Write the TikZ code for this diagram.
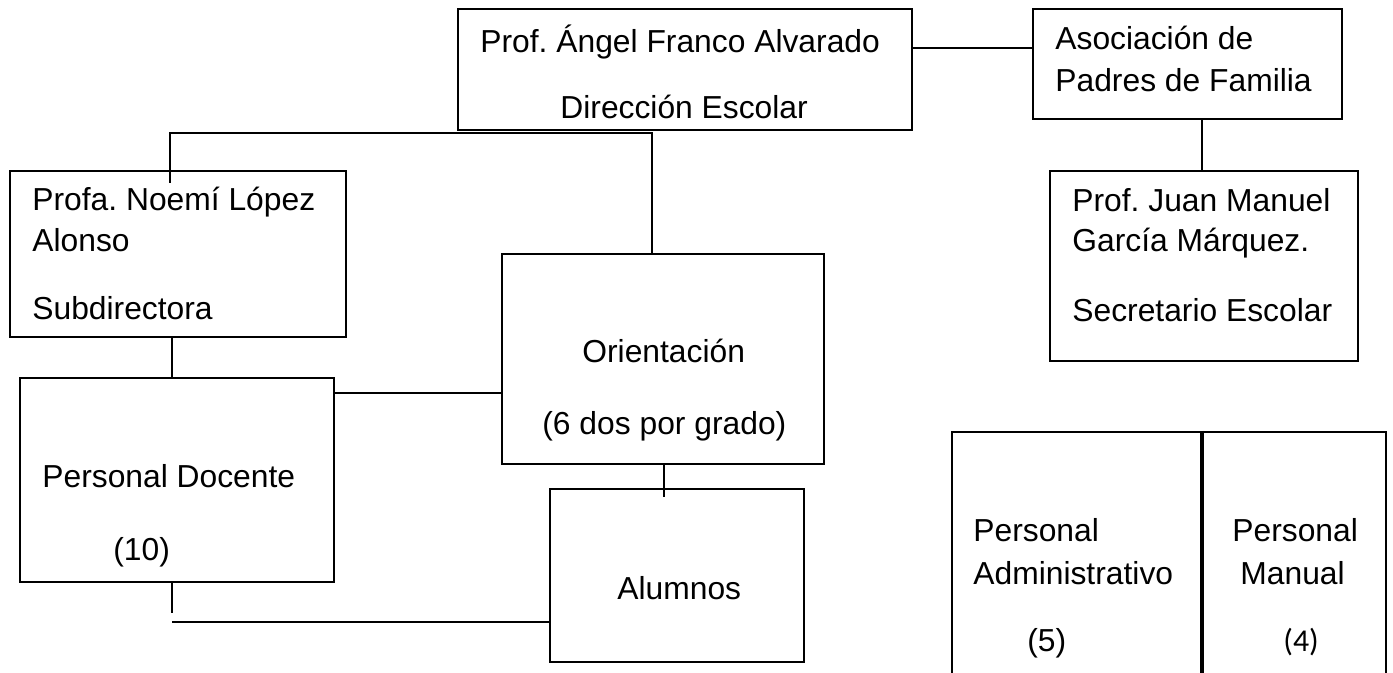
\documentclass[tikz,border=0pt]{standalone}
\usepackage{fontspec}
\setmainfont{Liberation Sans}
\newfontfamily\calibri{Carlito}
\usetikzlibrary{fit}
\frenchspacing

\begin{document}
\begin{tikzpicture}[x=0.5pt,y=-0.5pt,
  box/.style={draw,line width=1pt,inner sep=0pt},
  conn/.style={draw,line width=1pt},
  txt/.style={anchor=base west,inner sep=0pt,font=\fontsize{15.9}{19}\selectfont}]
  % page as in the scan, 1393 x 673 px
  \path[use as bounding box] (0,0) rectangle (1393,673);
  \clip (0,0) rectangle (1393,673);

  % boxes
  \node[box,fit={(458,9) (912,130)}] (dir) {};
  \node[box,fit={(1033,9) (1342,119)}] (aso) {};
  \node[box,fit={(1050,171) (1358,361)}] (sec) {};
  \node[box,fit={(10,171) (346,337)}] (sub) {};
  \node[box,fit={(502,254) (824,464)}] (ori) {};
  \node[box,fit={(20,378) (334,582)}] (doc) {};
  \node[box,fit={(550,489) (804,662)}] (alu) {};
  \node[box,fit={(952,432) (1201,700)}] (adm) {};
  \node[box,fit={(1201,432) (1386,700)}] (man) {};
  \draw[line width=2pt] (adm.north east) -- (adm.south east);

  % texts
  \node[txt] (dirA) at (480,53) {Prof. Ángel Franco Alvarado};
  \node[txt] (dirB) at (560,119) {Dirección Escolar};
  \node[txt] (asoA) at (1055,50) {Asociación de};
  \node[txt] (asoB) at (1055,92) {Padres de Familia};
  \node[txt] (secA) at (1072,212) {Prof. Juan Manuel};
  \node[txt] (secB) at (1072,252) {García Márquez.};
  \node[txt] (secC) at (1072,322) {Secretario Escolar};
  \node[txt] (subA) at (32,211) {Profa. Noemí López};
  \node[txt] (subB) at (32,252) {Alonso};
  \node[txt] (subC) at (32,320) {Subdirectora};
  \node[txt] (oriA) at (582,363) {Orientación};
  \node[txt] (oriB) at (542,435) {(6 dos por grado)};
  \node[txt] (docA) at (42,488) {Personal Docente};
  \node[txt] (docB) at (113,560) {(10)};
  \node[txt] (aluA) at (617,599) {Alumnos};
  \node[txt] (admA) at (973,542) {Personal};
  \node[txt] (admB) at (973,585) {Administrativo};
  \node[txt] (admC) at (1027,652) {(5)};
  \node[txt] (manA) at (1232,542) {Personal};
  \node[txt] (manB) at (1240,585) {Manual};
  \node[txt,font=\calibri\fontsize{15.9}{19}\selectfont] (manC) at (1283,652) {(4)};

  % guides for the connectors
  \coordinate (g1) at (0,48);
  \coordinate (g4) at (1202,0);
  \coordinate (bus) at (0,133);
  \coordinate (t1) at (170,183);
  \coordinate (t2) at (652,254);
  \coordinate (g2) at (172,0);
  \coordinate (g3) at (0,393);
  \coordinate (t3) at (664,497);
  \coordinate (t4) at (172,613);
  \coordinate (t5) at (172,622);

  % connectors
  \path[conn] (dir.east |- g1) -- (aso.west |- g1);
  \path[conn] (aso.south -| g4) -- (sec.north -| g4);
  \path[conn] (t1) -- (t1 |- bus) -- (t2 |- bus) -- (t2);
  \path[conn] (sub.south -| g2) -- (doc.north -| g2);
  \path[conn] (doc.east |- g3) -- (ori.west |- g3);
  \path[conn] (ori.south -| t3) -- (t3);
  \path[conn] (doc.south -| t4) -- (t4);
  \path[conn] (t5) -- (alu.west |- t5);
\end{tikzpicture}
\end{document}
